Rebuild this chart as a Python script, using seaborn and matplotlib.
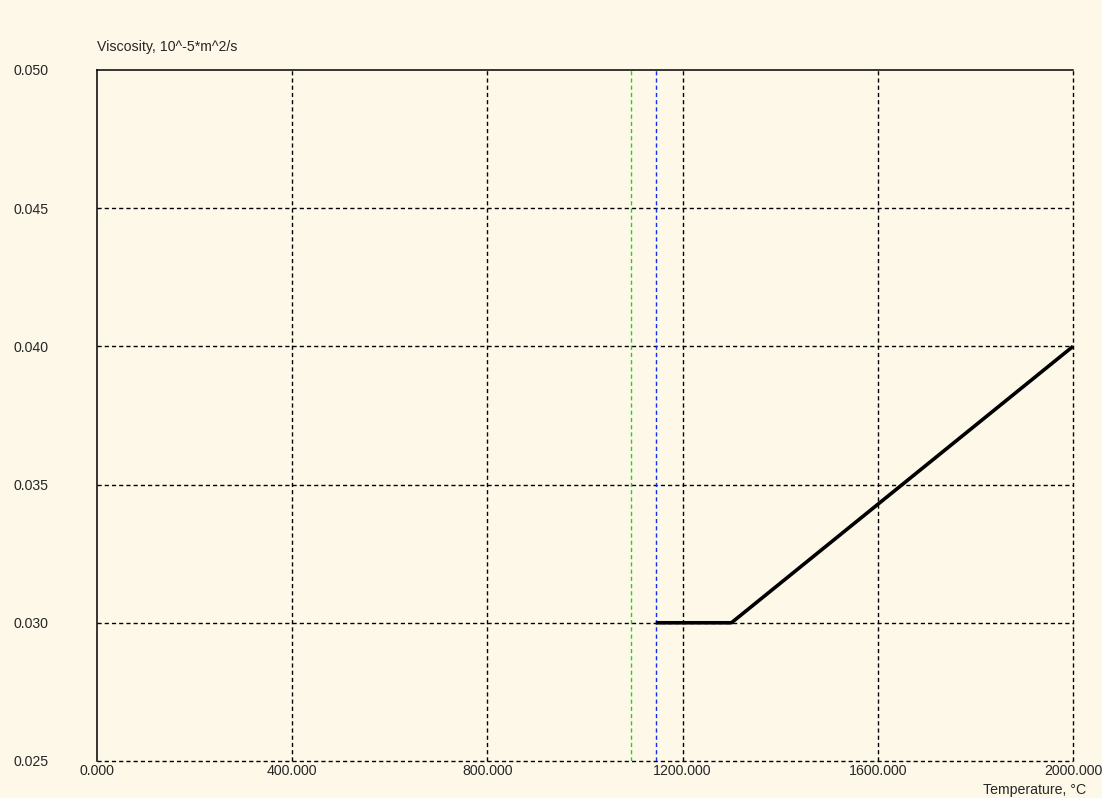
import matplotlib
matplotlib.use("Agg")
import matplotlib.pyplot as plt
import seaborn as sns
import pandas as pd

# Viscosity curve
temperature = [1145, 1300, 2000]
viscosity = [0.030, 0.030, 0.040]

# Marker temperatures (solidus / liquidus)
solidus_t = 1095
liquidus_t = 1145

x_ticks = [0, 400, 800, 1200, 1600, 2000]
y_ticks = [0.025, 0.030, 0.035, 0.040, 0.045, 0.050]

bg = "#FDF8E8"
sns.set_style("white")
plt.rcParams["font.family"] = ["Liberation Sans", "DejaVu Sans"]
fs = 10.2

fig = plt.figure(figsize=(11.02, 7.98), dpi=100, facecolor=bg)
ax = fig.add_axes([0.0880, 0.0464, 0.9737 - 0.0880, 0.9123 - 0.0464])
ax.set_facecolor(bg)

df = pd.DataFrame({"T": temperature, "v": viscosity})

ax.set_xlim(0, 2000)
ax.set_ylim(0.025, 0.050)

dash = (0, (3, 2.2))
for xv in x_ticks[1:]:
    ax.axvline(xv, color="black", lw=1.0, linestyle=dash, zorder=1, clip_on=False)
for yv in y_ticks[:-1]:
    ax.axhline(yv, color="black", lw=1.0, linestyle=dash, zorder=1, clip_on=False)

ax.axvline(solidus_t, color="#10E010", lw=1.0, linestyle=dash, zorder=2)
ax.axvline(liquidus_t, color="#1030F0", lw=1.0, linestyle=dash, zorder=2)

sns.lineplot(data=df, x="T", y="v", ax=ax, color="black", lw=2.6, zorder=3,
             solid_capstyle="butt")

for s in ["right", "bottom"]:
    ax.spines[s].set_visible(False)
for s in ["left", "top"]:
    ax.spines[s].set_color("black")
    ax.spines[s].set_linewidth(1.1)

ax.set_xticks(x_ticks)
ax.set_xticklabels([f"{v:.3f}" for v in x_ticks], fontsize=fs)
ax.set_yticks(y_ticks)
ax.set_yticklabels([f"{v:.3f}" for v in y_ticks], fontsize=fs, ha="left")
ax.tick_params(axis="y", length=0, pad=60)
ax.tick_params(axis="x", length=0, pad=2)
ax.set_xlabel("")
ax.set_ylabel("")

fig.text(97 / 1102, 1 - 47 / 798, "Viscosity, 10^-5*m^2/s", fontsize=fs,
         ha="left", va="center")
fig.text(1086 / 1102, 1 - 790 / 798, "Temperature, °C", fontsize=fs,
         ha="right", va="center")

fig.savefig("out.png", dpi=100, facecolor=bg)
